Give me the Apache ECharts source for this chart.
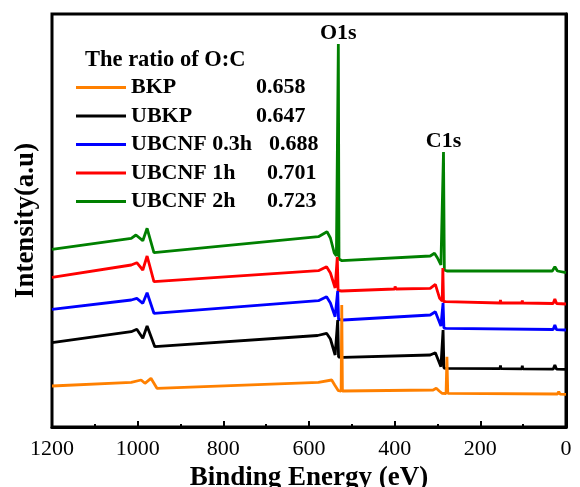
<!DOCTYPE html>
<html>
<head>
<meta charset="utf-8">
<script src="https://cdn.jsdelivr.net/npm/echarts@6/dist/echarts.min.js"></script>
<style>html,body{margin:0;padding:0;background:#fff;}#c{width:580px;height:487px;}</style>
</head>
<body>
<div id="c"></div>
<script>
// ---- data (binding energy eV, intensity a.u.) ----
const seriesNames = ['BKP', 'UBKP', 'UBCNF 0.3h', 'UBCNF 1h', 'UBCNF 2h'];
const ratios = ['0.658', '0.647', '0.688', '0.701', '0.723'];
const xTicks = [1200, 1000, 800, 600, 400, 200, 0];

const bkp = [[1200,41],[1015,44.7],[992,47],[983,43.7],[969,48.7],[955,38.7],[578,44.7],[547,47],[540,42],[531.5,36.3],[525,36],[523.5,122],[522,36],[520,36],[310,37],[303,38.7],[296,36],[289.6,33.7],[280,33.5],[278,70.3],[276,33.7],[274,33.7],[20,33],[17,35.3],[14,32.8],[0,32.7]];
const ubkp = [[1200,84.3],[1015,95.3],[1002,97.7],[988,88.7],[978,101],[960,80.3],[580,91.5],[559,93.7],[550,88],[539,72],[535,70.5],[533,107],[531,70],[520,69.7],[317,72],[305,74.3],[292,60.3],[289,59.5],[287,97],[285,59],[280,58.7],[154,58.3],[153,61.5],[152,58.3],[103,58.1],[102,61.3],[101,58.1],[30,57.8],[26,62],[22,57.8],[0,57.7]];
const ubcnf03 = [[1200,117.7],[1015,127],[1002,128.7],[988,123.7],[978,134.3],[962,113.7],[578,126.3],[559,130.3],[550,124],[539,110.3],[535,108.5],[533,136],[531,107.5],[520,107],[317,112],[305,115.3],[292,101],[289,99.5],[287,124],[285,99],[280,98.7],[30,97.5],[26,102],[22,97.3],[0,97]];
const ubcnf1 = [[1200,149.7],[1015,162],[1002,164.3],[988,157],[978,171],[962,145.3],[578,156.3],[559,160.3],[550,154],[539,139],[535,137],[534,170],[532,136.5],[524,136],[400,138],[399,140.5],[397,138],[317,138.7],[305,142.7],[295,128.7],[289,126],[287.5,159],[286,125.5],[280,125.3],[154,124],[153,127],[152,124],[103,124],[102,126.5],[101,124],[30,123.5],[26,128],[22,123.5],[0,123]];
const ubcnf2 = [[1200,177.7],[1015,188.7],[1004,192],[988,186.3],[978,198.7],[962,174.3],[578,190.3],[558,195.3],[550,189],[541,174],[536,171],[533,170],[531.5,383],[530,168],[526,166.5],[523,166.3],[317,171],[307,173.7],[300,169],[292,162],[288,160],[286,275],[284,157],[278,156],[32,156],[26,160.3],[20,156],[0,154.3]];
const peakLabels = [{name:'O1s', coord:[531.5,383]}, {name:'C1s', coord:[286,275]}];

const seriesData = [bkp, ubkp, ubcnf03, ubcnf1, ubcnf2];
const colors = ['#ff8000', '#000000', '#0000ff', '#ff0000', '#008000'];

const SERIF = '"Liberation Serif", "Times New Roman", serif';
const nameWidths = {'BKP':125, 'UBKP':125, 'UBCNF 0.3h':138, 'UBCNF 1h':136, 'UBCNF 2h':136};

const chart = echarts.init(document.getElementById('c'), null, {renderer:'canvas'});

const series = [];
for (let i = seriesData.length - 1; i >= 0; i--) {
  const s = {
    name: seriesNames[i],
    type: 'line',
    data: seriesData[i],
    symbol: 'none',
    lineStyle: {width: 2.8, color: colors[i]},
    itemStyle: {color: colors[i]},
    animation: false,
    z: 2
  };
  if (i === 4) {
    s.markPoint = {
      symbol: 'circle', symbolSize: 0,
      label: {show: true, position: 'top', distance: 0, color: '#000',
        fontFamily: SERIF, fontWeight: 'bold', fontSize: 22,
        formatter: p => p.name},
      data: peakLabels.map(p => ({name: p.name, coord: p.coord}))
    };
  }
  series.push(s);
}

const rich = {
  v: {fontFamily: SERIF, fontWeight: 'bold', fontSize: 22, color: '#000', lineHeight: 22}
};
const nameKeys = Object.keys(nameWidths);
nameKeys.forEach((k, idx) => {
  rich['n' + idx] = {fontFamily: SERIF, fontWeight: 'bold', fontSize: 22, color: '#000', lineHeight: 22, width: nameWidths[k]};
});

chart.setOption({
  backgroundColor: '#fff',
  animation: false,
  title: {
    text: 'The ratio of O:C',
    left: 85, top: 48, padding: 0,
    textStyle: {fontFamily: SERIF, fontWeight: 'bold', fontSize: 22.5, color: '#000', lineHeight: 24}
  },
  legend: {
    orient: 'vertical',
    left: 76, top: 76.5,
    padding: 0,
    itemGap: 6.5,
    itemWidth: 50, itemHeight: 3,
    icon: 'rect',
    selectedMode: false,
    data: seriesNames,
    formatter: function (name) {
      const i = seriesNames.indexOf(name);
      return '{n' + nameKeys.indexOf(name) + '|' + name + '}{v|' + ratios[i] + '}';
    },
    textStyle: {fontFamily: SERIF, fontWeight: 'bold', fontSize: 22, color: '#000', lineHeight: 22, rich: rich}
  },
  grid: {
    left: 52, right: 14, top: 14, bottom: 60,
    containLabel: false,
    outerBoundsMode: 'none',
    show: true, borderColor: '#000', borderWidth: 3, backgroundColor: 'transparent'
  },
  xAxis: {
    type: 'value',
    inverse: true,
    min: 0, max: 1200, interval: 200,
    name: 'Binding Energy (eV)',
    nameLocation: 'middle',
    nameGap: 30,
    nameTextStyle: {fontFamily: SERIF, fontWeight: 'bold', fontSize: 27, color: '#000'},
    axisLine: {show: true, lineStyle: {color: '#000', width: 3}},
    axisTick: {show: true, inside: true, length: 6, lineStyle: {color: '#000', width: 2}},
    minorTick: {show: true, splitNumber: 2, length: 3, lineStyle: {color: '#000', width: 2}},
    splitLine: {show: false},
    axisLabel: {
      margin: 11, color: '#000', fontFamily: SERIF, fontSize: 22,
      formatter: v => (xTicks.indexOf(v) >= 0 ? String(v) : '')
    }
  },
  yAxis: {
    type: 'value',
    min: 0, max: 413,
    name: 'Intensity(a.u)',
    nameLocation: 'middle',
    nameGap: 12,
    nameTextStyle: {fontFamily: SERIF, fontWeight: 'bold', fontSize: 27, color: '#000'},
    axisLine: {show: true, lineStyle: {color: '#000', width: 3}},
    axisTick: {show: false},
    axisLabel: {show: false},
    splitLine: {show: false}
  },
  series: series
});
</script>
</body>
</html>
